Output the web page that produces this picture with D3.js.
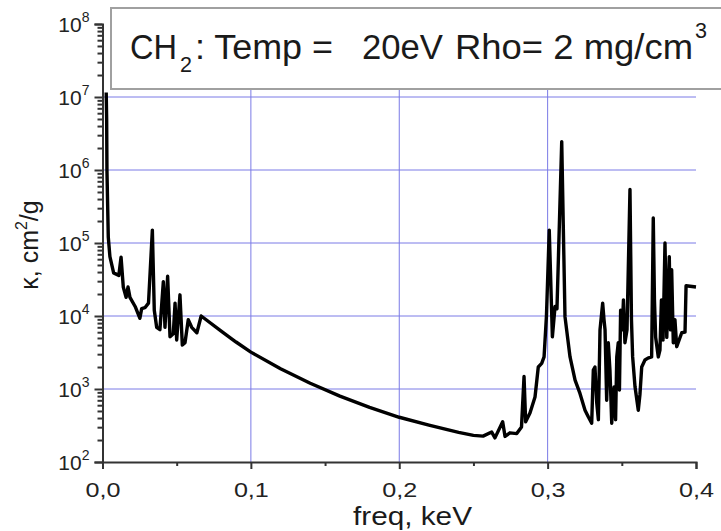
<!DOCTYPE html>
<html>
<head>
<meta charset="utf-8">
<script src="https://cdn.jsdelivr.net/npm/d3@7"></script>
<style>
  body { margin: 0; background: #fff; }
  svg { display: block; }
  svg text { font-family: "Liberation Sans", Arial, sans-serif; }
</style>
</head>
<body>
<svg></svg>
<script>
// spectrum: frequency in keV, opacity in cm^2/g
let freq = [0.0025, 0.0028, 0.003, 0.0039, 0.005, 0.0075, 0.011, 0.0125, 0.014, 0.0159,
            0.0172, 0.0185, 0.022, 0.0252, 0.0264, 0.0286, 0.031, 0.0336, 0.0349, 0.0365,
            0.0387, 0.041, 0.0421, 0.0439, 0.0455, 0.0477, 0.0489, 0.05, 0.0522, 0.0538,
            0.0556, 0.0578, 0.0601, 0.0636, 0.0665, 0.08, 0.09, 0.1, 0.12, 0.14,
            0.16, 0.18, 0.2, 0.22, 0.24, 0.25, 0.2565, 0.2623, 0.2645, 0.2697,
            0.2713, 0.2746, 0.2792, 0.2824, 0.2841, 0.2852, 0.2881, 0.2915, 0.2937, 0.296,
            0.2976, 0.2992, 0.3011, 0.3032, 0.305, 0.3063, 0.3095, 0.3117, 0.3151, 0.3185,
            0.3218, 0.3252, 0.3274, 0.3297, 0.3308, 0.3319, 0.3331, 0.3342, 0.3353, 0.3371,
            0.338, 0.3387, 0.3398, 0.3409, 0.342, 0.3432, 0.344, 0.3448, 0.3458, 0.3466,
            0.3476, 0.3484, 0.3492, 0.3503, 0.3511, 0.3521, 0.3535, 0.3555, 0.3565, 0.3573,
            0.3589, 0.3611, 0.3622, 0.3634, 0.3656, 0.3676, 0.3701, 0.3712, 0.372, 0.3728,
            0.3746, 0.3757, 0.3767, 0.3778, 0.3791, 0.3803, 0.3811, 0.382, 0.3828, 0.3836,
            0.3847, 0.3858, 0.387, 0.3904, 0.3926, 0.3933, 0.4]
let kappa = [1.15e7, 5e6, 1e6, 1.2e5, 6.5e4, 3.9e4, 3.6e4, 6.4e4, 2.5e4, 1.8e4,
             2.5e4, 1.8e4, 1.35e4, 9.3e3, 1.26e4, 1.3e4, 1.5e4, 1.5e5, 1.2e4, 7e3,
             6.5e3, 2.95e4, 7e3, 3.5e4, 5.2e3, 5.7e3, 1.5e4, 4.7e3, 1.95e4, 4e3,
             4.3e3, 8.9e3, 7e3, 5.9e3, 1e4, 6.2e3, 4.4e3, 3.2e3, 1.9e3, 1.2e3,
             800, 560, 410, 320, 255, 232, 226, 257, 214, 355,
             224, 251, 245, 302, 1480, 355, 468, 776, 2000, 2240,
             2750, 1e4, 1.5e5, 5200, 1.35e4, 1.26e4, 2.45e6, 9800, 2750, 1320,
             870, 513, 417, 340, 1820, 2000, 645, 380, 6460, 1.5e4,
             8900, 6460, 700, 4300, 1820, 340, 700, 1070, 380, 2750,
             4300, 970, 1.2e4, 6460, 1.66e4, 4300, 6460, 5.4e5, 8900, 2750,
             1070, 510, 830, 2000, 2500, 2650, 2750, 2.2e5, 1.66e4, 5100,
             2750, 3400, 1.66e4, 4700, 1e5, 5100, 1.66e4, 6.5e4, 6460, 4.3e4,
             4300, 8900, 3800, 5900, 6000, 2.6e4, 2.5e4]

let xTicks = [0, 0.1, 0.2, 0.3, 0.4]
let xTickLabels = ['0,0', '0,1', '0,2', '0,3', '0,4']
let xMinorTicks = [0.05, 0.15, 0.25, 0.35]
let yExponents = [2, 3, 4, 5, 6, 7, 8]
let xGrid = [0.1, 0.2, 0.3]
let yGrid = [1e3, 1e4, 1e5, 1e6, 1e7]

let width = 721
let height = 531
let plotLeft = 102.5, plotRight = 696, plotTop = 24, plotBottom = 462
let font = '"Liberation Sans", Arial, sans-serif'

let svg = d3.select('svg').attr('width', width).attr('height', height)

let xScale = d3.scaleLinear().domain([0, 0.4]).range([plotLeft, plotRight])
let yScale = d3.scaleLog().domain([1e2, 1e8]).range([plotBottom, plotTop])

// grid
svg.append('g').selectAll('line').data(xGrid).enter().append('line')
    .attr('x1', d => xScale(d)).attr('x2', d => xScale(d))
    .attr('y1', plotTop).attr('y2', plotBottom)
    .attr('stroke', '#7a7ae6').attr('stroke-width', 1)
svg.append('g').selectAll('line').data(yGrid).enter().append('line')
    .attr('x1', plotLeft).attr('x2', plotRight)
    .attr('y1', d => yScale(d)).attr('y2', d => yScale(d))
    .attr('stroke', '#7a7ae6').attr('stroke-width', 1)

// legend box sits over the top of the plot
let box = svg.append('g').attr('fill', '#1a1a1a')
box.append('rect')
    .attr('x', 111).attr('y', 8).attr('width', 640).attr('height', 81)
    .attr('fill', '#fff').attr('stroke', '#a0a0a0').attr('stroke-width', 2)
const legendText = (x, y, size, len, txt) => {
    box.append('text').attr('x', x).attr('y', y)
        .attr('font-size', size)
        .attr('textLength', len).attr('lengthAdjust', 'spacingAndGlyphs')
        .text(txt)
}
legendText(130, 59, 35, 47, 'CH')
legendText(180, 72, 22, 12, '2')
legendText(195, 59, 35, 138, ': Temp =')
legendText(362, 59, 35, 81, '20eV')
legendText(455, 59, 35, 238, 'Rho= 2 mg/cm')
legendText(695, 38, 22, 12, '3')

// curve
let points = freq.map((f, i) => [f, kappa[i]])
let line = d3.line().x(d => xScale(d[0])).y(d => yScale(d[1]))
svg.append('path')
    .datum(points)
    .attr('d', line)
    .attr('fill', 'none')
    .attr('stroke', '#000')
    .attr('stroke-width', 3.4)
    .attr('stroke-linejoin', 'round')

// y axis: minor ticks then major ticks
let minorY = yScale.ticks().filter(v => Math.abs(Math.log10(v) % 1) > 1e-6)
svg.append('g')
    .attr('transform', `translate(${plotLeft},0)`)
    .call(d3.axisLeft(yScale).tickValues(minorY).tickSize(5).tickFormat(''))
    .call(g => g.select('.domain').remove())
let yAxis = svg.append('g')
    .attr('transform', `translate(${plotLeft},0)`)
    .call(d3.axisLeft(yScale).tickValues(yExponents.map(e => Math.pow(10, e))).tickSize(8).tickFormat(''))
yAxis.selectAll('.tick').each(function (d) {
    let t = d3.select(this).append('text')
        .attr('x', -13).attr('y', 7.5)
        .attr('text-anchor', 'end')
        .attr('fill', '#222')
        .attr('font-family', font)
        .attr('font-size', 21)
    t.append('tspan').text('10')
    t.append('tspan').attr('font-size', 14).attr('dy', -10).text(Math.round(Math.log10(d)))
})

// x axis
svg.append('g')
    .attr('transform', `translate(0,${plotBottom})`)
    .call(d3.axisBottom(xScale).tickValues(xMinorTicks).tickSize(4).tickFormat(''))
    .call(g => g.select('.domain').remove())
let xAxis = svg.append('g')
    .attr('transform', `translate(0,${plotBottom})`)
    .call(d3.axisBottom(xScale).tickValues(xTicks).tickSize(7)
        .tickFormat((d, i) => xTickLabels[i]))
xAxis.selectAll('text')
    .attr('y', 35).attr('dy', 0)
    .attr('font-size', 21).attr('fill', '#222')
    .attr('font-family', font)
    .attr('textLength', 35).attr('lengthAdjust', 'spacingAndGlyphs')

svg.selectAll('.domain, .tick line').attr('stroke', '#333').attr('stroke-width', 2)

// axis titles
svg.append('text')
    .attr('x', 353).attr('y', 525)
    .attr('font-size', 25).attr('fill', '#1a1a1a')
    .attr('textLength', 119).attr('lengthAdjust', 'spacingAndGlyphs')
    .text('freq, keV')
let yt = svg.append('text')
    .attr('transform', 'translate(38,245) rotate(-90)')
    .attr('text-anchor', 'middle')
    .attr('font-size', 25).attr('fill', '#1a1a1a')
yt.append('tspan').text('κ, cm')
yt.append('tspan').attr('font-size', 16).attr('dy', -11).text('2')
yt.append('tspan').attr('dy', 11).text('/g')
</script>
</body>
</html>
